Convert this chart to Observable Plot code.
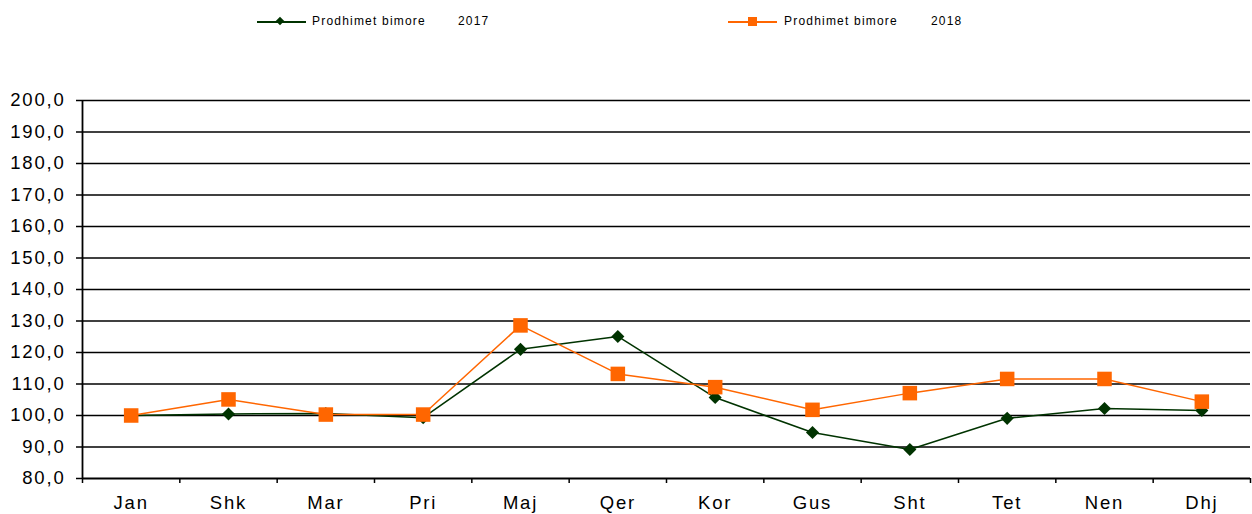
<!DOCTYPE html>
<html>
<head>
<meta charset="utf-8">
<script src="https://cdn.jsdelivr.net/npm/d3@7"></script>
<script src="https://cdn.jsdelivr.net/npm/@observablehq/plot@0.6"></script>
<style>
  html, body { margin: 0; padding: 0; background: #fff; }
  #wrap { position: relative; width: 1252px; height: 514px; overflow: hidden; font-family: "Liberation Sans", Arial, sans-serif; }
  #chart { position: absolute; left: 0; top: 0; }
  .leg { position: absolute; top: 13px; height: 18px; font-size: 12px; letter-spacing: 1.2px; color: #000; }
  .leg .ln { position: absolute; top: 8px; width: 49px; height: 1.5px; }
  .leg .mk { position: absolute; }
  .leg .t { position: absolute; top: 1px; white-space: nowrap; }
</style>
</head>
<body>
<div id="wrap">
  <div id="chart"></div>
  <div class="leg" style="left:257px;width:260px;">
    <div class="ln" style="left:0;background:#003300;"></div>
    <div class="mk" style="left:20px;top:5px;width:6px;height:6px;background:#003300;transform:rotate(45deg);"></div>
    <div class="t" style="left:55px;" id="l1a"></div>
    <div class="t" style="left:201px;" id="l1b"></div>
  </div>
  <div class="leg" style="left:728px;width:260px;">
    <div class="ln" style="left:0;background:#ff6600;"></div>
    <div class="mk" style="left:20px;top:4px;width:9px;height:9px;background:#ff6600;"></div>
    <div class="t" style="left:56px;" id="l2a"></div>
    <div class="t" style="left:203px;" id="l2b"></div>
  </div>
</div>
<script>
const months = ["Jan", "Shk", "Mar", "Pri", "Maj", "Qer", "Kor", "Gus", "Sht", "Tet", "Nen", "Dhj"];
const values2017 = [100.0, 100.5, 100.6, 99.3, 121.0, 125.1, 105.7, 94.6, 89.2, 99.1, 102.2, 101.6];
const values2018 = [100.0, 105.1, 100.3, 100.3, 128.6, 113.2, 109.0, 101.8, 107.1, 111.6, 111.6, 104.4];
const yTicks = [80, 90, 100, 110, 120, 130, 140, 150, 160, 170, 180, 190, 200];
const seriesName = "Prodhimet bimore";
const years = ["2017", "2018"];

document.getElementById("l1a").textContent = seriesName;
document.getElementById("l1b").textContent = years[0];
document.getElementById("l2a").textContent = seriesName;
document.getElementById("l2b").textContent = years[1];

const d2017 = months.map((m, i) => ({i, v: values2017[i]}));
const d2018 = months.map((m, i) => ({i, v: values2018[i]}));
const boundaries = d3.range(months.length + 1).map(k => k - 0.5);

const green = "#003300";
const orange = "#ff6600";

const chart = Plot.plot({
  width: 1252,
  height: 514,
  marginTop: 100,
  marginBottom: 36,
  marginLeft: 82,
  marginRight: 2,
  style: {fontFamily: "'Liberation Sans', Arial, sans-serif", fontSize: "18.5px", letterSpacing: "1.8px", color: "#000", background: "#fff"},
  x: {type: "linear", domain: [-0.5, months.length - 0.5], label: null},
  y: {domain: [80, 200], label: null},
  marks: [
    Plot.ruleY(yTicks.filter(t => t > 80), {stroke: "#000", strokeWidth: 1.5}),
    Plot.axisY({ticks: yTicks, tickSize: 6, tickPadding: 11, tickFormat: d => d.toFixed(1).replace(".", ","), stroke: "#000", strokeWidth: 1.5}),
    Plot.axisX({ticks: boundaries, tickSize: 5, tickFormat: () => "", stroke: "#000", strokeWidth: 1.5}),
    Plot.axisX({ticks: d3.range(months.length), tickSize: 0, tickPadding: 17, tickFormat: i => months[i]}),
    Plot.ruleX([-0.5], {stroke: "#000", strokeWidth: 1.8}),
    Plot.ruleY([80], {stroke: "#000", strokeWidth: 1.8}),
    Plot.line(d2017, {x: "i", y: "v", stroke: green, strokeWidth: 1.5}),
    Plot.line(d2018, {x: "i", y: "v", stroke: orange, strokeWidth: 1.5}),
    Plot.dot(d2017, {x: "i", y: "v", symbol: "diamond2", r: 5.9, fill: green, stroke: "none"}),
    Plot.dot(d2018, {x: "i", y: "v", symbol: "square", r: 8.2, fill: orange, stroke: "none"})
  ]
});
document.getElementById("chart").appendChild(chart);
</script>
</body>
</html>
